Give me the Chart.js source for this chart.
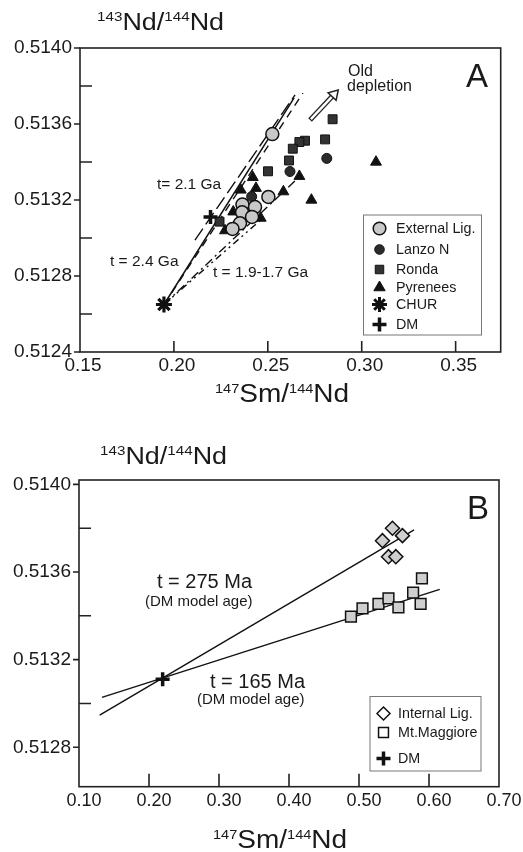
<!DOCTYPE html>
<html>
<head>
<meta charset="utf-8">
<script src="https://cdn.jsdelivr.net/npm/chart.js@4.4.0/dist/chart.umd.min.js"></script>
<style>
  html, body { margin: 0; padding: 0; background: #fff; }
  canvas { display: block; }
</style>
</head>
<body>
<canvas id="chartA" width="523" height="426"></canvas>
<canvas id="chartB" width="523" height="426"></canvas>
<script>
// ===== PANEL A DATA =====
const extLigX = [0.2524, 0.2503, 0.2365, 0.2432, 0.2363, 0.2416, 0.2352, 0.2312];
const extLigY = [0.513547, 0.513216, 0.513176, 0.513163, 0.513135, 0.513111, 0.513077, 0.513048];
const lanzoX = [0.2814, 0.2618, 0.2414];
const lanzoY = [0.513419, 0.513350, 0.513218];
const rondaX = [0.2845, 0.2805, 0.2698, 0.2668, 0.2633, 0.2613, 0.2501, 0.2243];
const rondaY = [0.513625, 0.513519, 0.513512, 0.513505, 0.513470, 0.513408, 0.513351, 0.513086];
const pyrX = [0.3076, 0.2732, 0.2668, 0.2583, 0.2420, 0.2437, 0.2356, 0.2462, 0.2316, 0.2272];
const pyrY = [0.513400, 0.513200, 0.513325, 0.513244, 0.513319, 0.513262, 0.513253, 0.513105, 0.513138, 0.513039];
const churX = [0.1947];
const churY = [0.51265];
const dmX = [0.2195];
const dmY = [0.51311];

// reference lines (end points)
const line21X = [0.2112, 0.2645];
const line21Y = [0.512989, 0.513753];
const line24X = [0.1947, 0.2640];
const line24Y = [0.51265, 0.513737];
const lineDashX = [0.1947, 0.2687];
const lineDashY = [0.51265, 0.513763];
const line19X = [0.1947, 0.2672];
const line19Y = [0.51265, 0.513326];
const line17X = [0.1947, 0.2474];
const line17Y = [0.51265, 0.513105];
const depletionX = [0.2725, 0.2875];
const depletionY = [0.513621, 0.513779];

const ticksAX = [0.15, 0.20, 0.25, 0.30, 0.35];
const ticksAY = [0.5124, 0.5128, 0.5132, 0.5136, 0.5140];
const minorAY = [0.5126, 0.5130, 0.5134, 0.5138];

// ===== PANEL B DATA =====
const intLigX = [0.5478, 0.5335, 0.5621, 0.5421, 0.5526];
const intLigY = [0.513800, 0.513743, 0.513766, 0.513670, 0.513670];
const mtMagX = [0.4885, 0.5050, 0.5278, 0.5421, 0.5563, 0.5773, 0.5899, 0.5880];
const mtMagY = [0.513396, 0.513434, 0.513454, 0.513480, 0.513439, 0.513506, 0.513571, 0.513454];
const dmBX = [0.2195];
const dmBY = [0.51311];
const line275X = [0.1295, 0.5787];
const line275Y = [0.512947, 0.513792];
const line165X = [0.1328, 0.6153];
const line165Y = [0.513028, 0.513521];

const ticksBX = [0.10, 0.20, 0.30, 0.40, 0.50, 0.60, 0.70];
const ticksBY = [0.5128, 0.5132, 0.5136, 0.5140];
const minorBY = [0.5130, 0.5134, 0.5138];

const FONT = '"Liberation Sans", Arial, sans-serif';
const INK = '#1a1a1a';

const pts = (xs, ys) => xs.map((x, i) => ({ x: x, y: ys[i] }));

function drawMark(ctx, style, x, y, r, fill, stroke, lw) {
    ctx.save();
    ctx.fillStyle = fill;
    ctx.strokeStyle = stroke;
    ctx.lineWidth = lw;
    ctx.beginPath();
    if (style === 'circle') {
        ctx.arc(x, y, r, 0, Math.PI * 2);
    } else if (style === 'rect') {
        const s = r * Math.SQRT1_2;
        ctx.rect(x - s, y - s, 2 * s, 2 * s);
    } else if (style === 'rectRot') {
        ctx.moveTo(x - r, y); ctx.lineTo(x, y - r); ctx.lineTo(x + r, y); ctx.lineTo(x, y + r); ctx.closePath();
    } else if (style === 'triangle') {
        ctx.moveTo(x, y - r); ctx.lineTo(x + 0.866 * r, y + 0.5 * r); ctx.lineTo(x - 0.866 * r, y + 0.5 * r); ctx.closePath();
    }
    if (style === 'cross' || style === 'star') {
        ctx.moveTo(x - r, y); ctx.lineTo(x + r, y);
        ctx.moveTo(x, y - r); ctx.lineTo(x, y + r);
        if (style === 'star') {
            const d = r * Math.SQRT1_2;
            ctx.moveTo(x - d, y - d); ctx.lineTo(x + d, y + d);
            ctx.moveTo(x - d, y + d); ctx.lineTo(x + d, y - d);
        }
        ctx.stroke();
    } else {
        ctx.fill();
        if (lw) ctx.stroke();
    }
    ctx.restore();
}

// isotope ratio title with superscripts
function drawIso(ctx, parts, x, base, big, small, stretch) {
    ctx.save();
    ctx.translate(x, base);
    ctx.scale(stretch, 1);
    ctx.fillStyle = INK;
    ctx.textBaseline = 'alphabetic';
    ctx.textAlign = 'left';
    let cx = 0;
    parts.forEach(p => {
        const sup = /^[0-9]+$/.test(p);
        ctx.font = (sup ? small : big) + 'px ' + FONT;
        ctx.fillText(p, cx, sup ? -big * 0.36 : 0);
        cx += ctx.measureText(p).width;
    });
    ctx.restore();
}

const decor = {
    id: 'decor',
    afterDatasetsDraw(chart, args, o) {
        const ctx = chart.ctx;
        const a = chart.chartArea;
        const sx = chart.scales.x, sy = chart.scales.y;
        ctx.save();
        ctx.strokeStyle = '#222';
        ctx.lineWidth = 1.6;
        ctx.strokeRect(a.left, a.top, a.right - a.left, a.bottom - a.top);
        ctx.beginPath();
        o.yMajor.forEach(v => {
            const py = sy.getPixelForValue(v);
            ctx.moveTo(a.left - 6, py); ctx.lineTo(a.left, py);
        });
        o.yMinor.forEach(v => {
            const py = sy.getPixelForValue(v);
            ctx.moveTo(a.left, py); ctx.lineTo(a.left + 12, py);
        });
        o.xInner.forEach(v => {
            const px = sx.getPixelForValue(v);
            ctx.moveTo(px, a.bottom); ctx.lineTo(px, a.bottom - o.tickLen);
        });
        ctx.stroke();

        // arrow "Old depletion"
        if (o.arrow) {
            const x0 = sx.getPixelForValue(o.arrow.x[0]), y0 = sy.getPixelForValue(o.arrow.y[0]);
            const x1 = sx.getPixelForValue(o.arrow.x[1]), y1 = sy.getPixelForValue(o.arrow.y[1]);
            const ang = Math.atan2(y1 - y0, x1 - x0);
            const hl = 9, hw = 5.5;
            const bx = x1 - Math.cos(ang) * hl, by = y1 - Math.sin(ang) * hl;
            ctx.lineCap = 'butt';
            ctx.lineWidth = 5;
            ctx.strokeStyle = '#222';
            ctx.beginPath(); ctx.moveTo(x0, y0); ctx.lineTo(bx, by); ctx.stroke();
            ctx.lineWidth = 2.4;
            ctx.strokeStyle = '#fff';
            ctx.beginPath(); ctx.moveTo(x0 + Math.cos(ang) * 1.2, y0 + Math.sin(ang) * 1.2); ctx.lineTo(bx + Math.cos(ang) * 2, by + Math.sin(ang) * 2); ctx.stroke();
            ctx.beginPath();
            ctx.moveTo(x1, y1);
            ctx.lineTo(bx + Math.sin(ang) * hw, by - Math.cos(ang) * hw);
            ctx.lineTo(bx - Math.sin(ang) * hw, by + Math.cos(ang) * hw);
            ctx.closePath();
            ctx.fillStyle = '#fff';
            ctx.fill();
            ctx.lineWidth = 1.5;
            ctx.strokeStyle = '#222';
            ctx.stroke();
        }

        // free texts
        ctx.fillStyle = INK;
        ctx.textBaseline = 'middle';
        ctx.textAlign = 'left';
        o.texts.forEach(t => {
            ctx.font = t.size + 'px ' + FONT;
            ctx.fillText(t.t, t.x, t.y);
        });

        // panel letter
        ctx.font = '33px ' + FONT;
        ctx.textBaseline = 'alphabetic';
        ctx.fillText(o.letter.t, o.letter.x, o.letter.y);

        // axis titles
        drawIso(ctx, ['143', 'Nd/', '144', 'Nd'], o.yTitle.x, o.yTitle.y, 23, 13, 1.17);
        drawIso(ctx, ['147', 'Sm/', '144', 'Nd'], o.xTitle.x, o.xTitle.y, 25, 13, 1.12);

        // legend
        const L = o.legend;
        ctx.fillStyle = '#fff';
        ctx.fillRect(L.box[0], L.box[1], L.box[2], L.box[3]);
        ctx.strokeStyle = '#777';
        ctx.lineWidth = 1;
        ctx.strokeRect(L.box[0], L.box[1], L.box[2], L.box[3]);
        L.items.forEach(it => {
            drawMark(ctx, it.style, L.markX, it.y, it.r, it.fill, it.stroke, it.lw);
            ctx.fillStyle = INK;
            ctx.font = L.size + 'px ' + FONT;
            ctx.textBaseline = 'middle';
            ctx.fillText(it.label, L.textX, it.y + 1);
        });
        ctx.restore();
    }
};

function scatterSet(xs, ys, style, r, fill, stroke, lw) {
    return {
        data: pts(xs, ys), pointStyle: style, pointRadius: r, pointHoverRadius: r,
        backgroundColor: fill, borderColor: stroke, borderWidth: lw, showLine: false
    };
}
function lineSet(xs, ys, dash, lw) {
    return {
        data: pts(xs, ys), showLine: true, pointRadius: 0, borderColor: '#111',
        borderWidth: lw || 1.4, borderDash: dash, fill: false
    };
}

function baseOptions(xMin, xMax, yMin, yMax, xTicks, yTicks, yWidth, xHeight, pad, xPad, xFont, xShift) {
    return {
        responsive: false,
        animation: false,
        layout: { padding: pad },
        plugins: { legend: { display: false }, tooltip: { enabled: false } },
        scales: {
            x: {
                type: 'linear', min: xMin, max: xMax,
                grid: { display: false, drawTicks: false },
                border: { display: false },
                afterBuildTicks: s => { s.ticks = xTicks.map(v => ({ value: v })); },
                afterFit: s => { s.height = xHeight; },
                ticks: {
                    padding: xPad, color: INK, maxRotation: 0, autoSkip: false, labelOffset: xShift,
                    font: { family: FONT, size: xFont },
                    callback: v => v.toFixed(2)
                }
            },
            y: {
                type: 'linear', min: yMin, max: yMax,
                grid: { display: false, drawTicks: false },
                border: { display: false },
                afterBuildTicks: s => { s.ticks = yTicks.map(v => ({ value: v })); },
                afterFit: s => { s.width = yWidth; },
                ticks: {
                    padding: 8, color: INK, autoSkip: false,
                    font: { family: FONT, size: 19 },
                    callback: v => v.toFixed(4)
                }
            }
        }
    };
}

// ===== CHART A =====
const optsA = baseOptions(0.15, 0.374, 0.5124, 0.5140, ticksAX, ticksAY, 80, 74,
    { top: 48, right: 22.3, left: 0, bottom: 0 }, 2, 19, 3);
optsA.plugins.decor = {
    yMajor: ticksAY, yMinor: minorAY, xInner: ticksAX.slice(1), tickLen: 11,
    yTitle: { x: 97, y: 29.5 }, xTitle: { x: 215, y: 401.5 },
    letter: { t: 'A', x: 466, y: 87 },
    arrow: { x: depletionX, y: depletionY },
    texts: [
        { t: 't= 2.1 Ga', x: 157, y: 185, size: 15.5 },
        { t: 't = 2.4 Ga', x: 110, y: 262, size: 15.5 },
        { t: 't = 1.9-1.7 Ga', x: 213, y: 273, size: 15.5 },
        { t: 'Old', x: 348, y: 72, size: 16 },
        { t: 'depletion', x: 347, y: 87, size: 16 }
    ],
    legend: {
        box: [363.5, 215, 118, 120], markX: 379.5, textX: 396, size: 14.3,
        items: [
            { label: 'External Lig.', style: 'circle', r: 6.3, fill: '#c8c8c8', stroke: '#111', lw: 1.5, y: 228.5 },
            { label: 'Lanzo N', style: 'circle', r: 4.8, fill: '#2c2c2c', stroke: '#111', lw: 1, y: 249.5 },
            { label: 'Ronda', style: 'rect', r: 6, fill: '#333', stroke: '#111', lw: 1, y: 269.5 },
            { label: 'Pyrenees', style: 'triangle', r: 6.5, fill: '#111', stroke: '#111', lw: 1, y: 287.5 },
            { label: 'CHUR', style: 'star', r: 7.5, fill: '#111', stroke: '#111', lw: 3, y: 304.5 },
            { label: 'DM', style: 'cross', r: 7, fill: '#111', stroke: '#111', lw: 3.5, y: 324.5 }
        ]
    }
};

new Chart(document.getElementById('chartA').getContext('2d'), {
    type: 'scatter',
    data: {
        datasets: [
            scatterSet(churX, churY, 'star', 8, '#111', '#111', 3.2),
            scatterSet(dmX, dmY, 'cross', 7, '#111', '#111', 3.5),
            scatterSet(extLigX, extLigY, 'circle', 6.5, '#c8c8c8', '#111', 1.5),
            scatterSet(lanzoX, lanzoY, 'circle', 5, '#2c2c2c', '#111', 1),
            scatterSet(rondaX, rondaY, 'rect', 6.3, '#333', '#111', 1),
            scatterSet(pyrX, pyrY, 'triangle', 6.3, '#111', '#111', 1),
            lineSet(line24X, line24Y, [], 1.5),
            lineSet(line21X, line21Y, [14, 5], 1.4),
            lineSet(lineDashX, lineDashY, [8, 6], 1.4),
            lineSet(line19X, line19Y, [9, 4, 2, 4], 1.4),
            lineSet(line17X, line17Y, [7, 4, 2, 4, 2, 4], 1.4)
        ]
    },
    options: optsA,
    plugins: [decor]
});

// ===== CHART B =====
const optsB = baseOptions(0.10, 0.70, 0.51262, 0.51402, ticksBX, ticksBY, 79, 65.3,
    { top: 54, right: 24, left: 0, bottom: 0 }, 4, 18, 5);
optsB.plugins.decor = {
    yMajor: ticksBY, yMinor: minorBY, xInner: ticksBX.slice(1, -1), tickLen: 13,
    yTitle: { x: 100, y: 37.5 }, xTitle: { x: 213, y: 422 },
    letter: { t: 'B', x: 467, y: 92.5 },
    arrow: null,
    texts: [
        { t: 't = 275 Ma', x: 157, y: 156, size: 20 },
        { t: '(DM model age)', x: 145, y: 176, size: 15 },
        { t: 't = 165 Ma', x: 210, y: 256, size: 20 },
        { t: '(DM model age)', x: 197, y: 274, size: 15 }
    ],
    legend: {
        box: [370, 270.5, 111, 74.5], markX: 383.5, textX: 398, size: 14.3,
        items: [
            { label: 'Internal Lig.', style: 'rectRot', r: 6.5, fill: '#fff', stroke: '#111', lw: 1.5, y: 287.5 },
            { label: 'Mt.Maggiore', style: 'rect', r: 7, fill: '#fff', stroke: '#111', lw: 1.5, y: 306.5 },
            { label: 'DM', style: 'cross', r: 7, fill: '#111', stroke: '#111', lw: 3.5, y: 332.5 }
        ]
    }
};

new Chart(document.getElementById('chartB').getContext('2d'), {
    type: 'scatter',
    data: {
        datasets: [
            scatterSet(dmBX, dmBY, 'cross', 7, '#111', '#111', 3.5),
            scatterSet(intLigX, intLigY, 'rectRot', 7, '#cfcfcf', '#111', 1.5),
            scatterSet(mtMagX, mtMagY, 'rect', 7.6, '#cfcfcf', '#111', 1.5),
            lineSet(line275X, line275Y, [], 1.4),
            lineSet(line165X, line165Y, [], 1.4)
        ]
    },
    options: optsB,
    plugins: [decor]
});
</script>
</body>
</html>
